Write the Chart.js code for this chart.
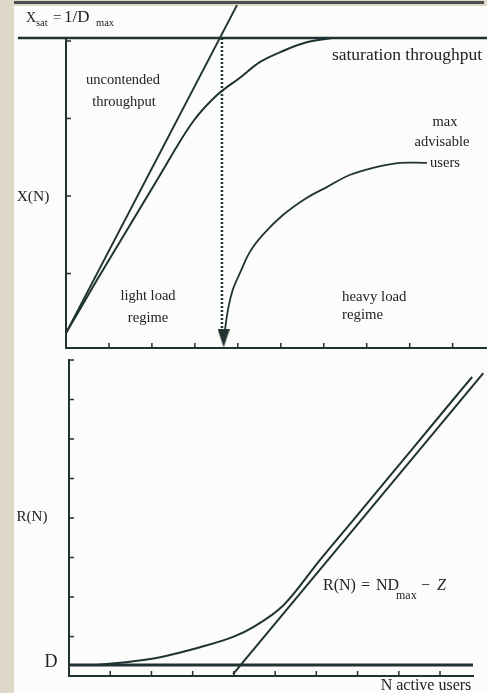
<!DOCTYPE html>
<html>
<head>
<meta charset="utf-8">
<script src="https://cdn.jsdelivr.net/npm/chart.js@4"></script>
<style>
  html, body { margin: 0; padding: 0; }
  body { width: 487px; height: 693px; background: #ddd8c8; position: relative; overflow: hidden; }
  #paper { position: absolute; left: 14px; top: 6px; width: 473px; height: 687px; background: #fcfcfa; }
  #topband { position: absolute; left: 14px; top: 1px; width: 470px; height: 3px; background: #4a5052; }
  canvas { position: absolute; left: 0; }
  #top { top: 0; }
  #bottom { top: 352px; }
</style>
</head>
<body>
<div id="paper"></div>
<div id="topband"></div>
<canvas id="top" width="487" height="352"></canvas>
<canvas id="bottom" width="487" height="341"></canvas>
<script>
// ---- top panel: throughput X(N) ----
const topXTicks = [1, 2, 3, 4, 5, 6, 7, 8, 9]
const topYTicks = [0.24, 0.49, 0.74, 0.99]
const satLevel = 1.0
const satSpan = [-1.12, 9.8]
const uncontended = [[0, 0.048], [3.98, 1.106]]
const throughput = [
  [0, 0.048], [0.72, 0.219], [2.12, 0.542], [2.95, 0.729], [3.51, 0.815],
  [4.05, 0.872], [4.51, 0.922], [5.05, 0.958], [5.6, 0.986], [6.2, 1.0]
]
const kneeN = 3.63
const advisableArrow = [
  [8.4, 0.597], [7.77, 0.597], [7.14, 0.581], [6.6, 0.558], [6.07, 0.519],
  [5.6, 0.484], [5.05, 0.429], [4.58, 0.365], [4.28, 0.31], [4.05, 0.242],
  [3.88, 0.187], [3.77, 0.123], [3.7, 0.058]
]
const arrowTip = [3.67, 0.031]

// ---- bottom panel: response time R(N) ----
const botXTicks = [1, 2, 3, 4, 5, 6, 7, 8, 9]
const botYTicks = [1, 2, 3, 4, 5, 6, 7, 8]
const dLevel = 0.28
const responseCurve = [
  [0.68, 0.28], [1.97, 0.43], [3.18, 0.73], [3.98, 0.99], [4.47, 1.24],
  [5.19, 1.78], [6.09, 2.94], [6.89, 3.94], [7.79, 5.07], [9.17, 6.81], [9.78, 7.57]
]
const asymptote = [[3.98, 0.05], [10.05, 7.67]]

const ink = '#1f3333'
const serif = '"Liberation Serif", "DejaVu Serif", serif'
const pts = (arr) => arr.map(([x, y]) => ({ x, y }))

// arrow head used as a point style
const head = document.createElement('canvas')
head.width = 12
head.height = 18
const hctx = head.getContext('2d')
hctx.fillStyle = ink
hctx.beginPath()
hctx.moveTo(0, 0)
hctx.lineTo(12, 0)
hctx.lineTo(6, 18)
hctx.closePath()
hctx.fill()

// small tick marks pointing into the plot
const innerTicks = {
  id: 'innerTicks',
  afterDraw(chart) {
    const { ctx, chartArea } = chart
    const x = chart.scales.x
    const y = chart.scales.y
    ctx.save()
    ctx.strokeStyle = ink
    ctx.lineWidth = 1.5
    ctx.beginPath()
    x.ticks.forEach((t) => {
      const px = x.getPixelForValue(t.value)
      ctx.moveTo(px, chartArea.bottom)
      ctx.lineTo(px, chartArea.bottom - 5)
    })
    y.ticks.forEach((t) => {
      const py = y.getPixelForValue(t.value)
      ctx.moveTo(chartArea.left, py)
      ctx.lineTo(chartArea.left + 5, py)
    })
    ctx.stroke()
    ctx.restore()
  }
}

// free text; each entry is [text, x, y, size, align, style]
const textPlugin = {
  id: 'texts',
  afterDraw(chart, args, opts) {
    const ctx = chart.ctx
    ctx.save()
    ctx.fillStyle = '#222'
    ctx.textBaseline = 'middle'
    opts.items.forEach(([text, x, y, size, align, style]) => {
      ctx.font = `${style || ''} ${size}px ${serif}`
      ctx.textAlign = align || 'left'
      ctx.fillText(text, x, y)
    })
    ctx.restore()
  }
}

function scales(max, xTicks, yMax, yTicks) {
  const axis = (ticks) => ({
    type: 'linear',
    grid: { display: false, drawTicks: false },
    border: { color: ink, width: 2 },
    ticks: { display: false },
    afterBuildTicks: (s) => { s.ticks = ticks.map((v) => ({ value: v })) }
  })
  return {
    x: { ...axis(xTicks), min: 0, max },
    y: { ...axis(yTicks), min: 0, max: yMax }
  }
}

const lineDefaults = {
  borderColor: ink,
  borderWidth: 2,
  pointRadius: 0,
  fill: false,
  clip: false
}

new Chart(document.getElementById('top'), {
  type: 'line',
  data: {
    datasets: [
      { ...lineDefaults, data: pts([[satSpan[0], satLevel], [satSpan[1], satLevel]]), borderWidth: 2.5 },
      { ...lineDefaults, data: pts(uncontended) },
      { ...lineDefaults, data: pts(throughput), tension: 0.4, cubicInterpolationMode: 'monotone' },
      { ...lineDefaults, data: pts([[kneeN, satLevel], [kneeN, 0.06]]), borderDash: [2, 2], borderWidth: 2.5 },
      { ...lineDefaults, data: pts(advisableArrow), tension: 0.4, borderWidth: 1.8 },
      { ...lineDefaults, data: pts([arrowTip]), pointRadius: 6, pointStyle: head }
    ]
  },
  options: {
    responsive: false,
    animation: false,
    devicePixelRatio: 1,
    layout: { autoPadding: false, padding: { left: 66, top: 38, right: 0, bottom: 4 } },
    scales: scales(9.8, topXTicks, 1.0, topYTicks),
    plugins: {
      legend: { display: false },
      tooltip: { enabled: false },
      texts: {
        items: [
          ['X', 26, 18, 14],
          ['sat', 36, 23, 10.5],
          ['=', 53, 18, 15],
          ['1/D', 64, 18, 17],
          ['max', 96, 23, 10.5],
          ['uncontended', 123, 80, 14.5, 'center'],
          ['throughput', 124, 102, 14.5, 'center'],
          ['saturation throughput', 407, 55, 17.5, 'center'],
          ['max', 445, 122, 14.5, 'center'],
          ['advisable', 442, 142, 14.5, 'center'],
          ['users', 445, 163, 14.5, 'center'],
          ['X(N)', 33, 197, 15.5, 'center'],
          ['light load', 148, 296, 14.5, 'center'],
          ['regime', 148, 318, 14.5, 'center'],
          ['heavy load', 342, 297, 14.8],
          ['regime', 342, 315, 14.8]
        ]
      }
    }
  },
  plugins: [innerTicks, textPlugin]
})

new Chart(document.getElementById('bottom'), {
  type: 'line',
  data: {
    datasets: [
      { ...lineDefaults, data: pts([[0, dLevel], [9.8, dLevel]]), borderWidth: 3 },
      { ...lineDefaults, data: pts(asymptote) },
      { ...lineDefaults, data: pts(responseCurve), tension: 0.4, cubicInterpolationMode: 'monotone' }
    ]
  },
  options: {
    responsive: false,
    animation: false,
    devicePixelRatio: 1,
    layout: { autoPadding: false, padding: { left: 69, top: 8, right: 14, bottom: 17 } },
    scales: scales(9.8, botXTicks, 8, botYTicks),
    plugins: {
      legend: { display: false },
      tooltip: { enabled: false },
      texts: {
        items: [
          ['R(N)', 32, 165, 15, 'center'],
          ['D', 51, 310, 18, 'center'],
          ['R(N)', 323, 234, 16],
          ['=', 361, 234, 16],
          ['ND', 376, 234, 16],
          ['max', 396, 244, 12],
          ['\u2212', 421, 234, 16],
          ['Z', 437, 234, 16, 'left', 'italic'],
          ['N active users', 426, 334, 16, 'center']
        ]
      }
    }
  },
  plugins: [innerTicks, textPlugin]
})
</script>
</body>
</html>
